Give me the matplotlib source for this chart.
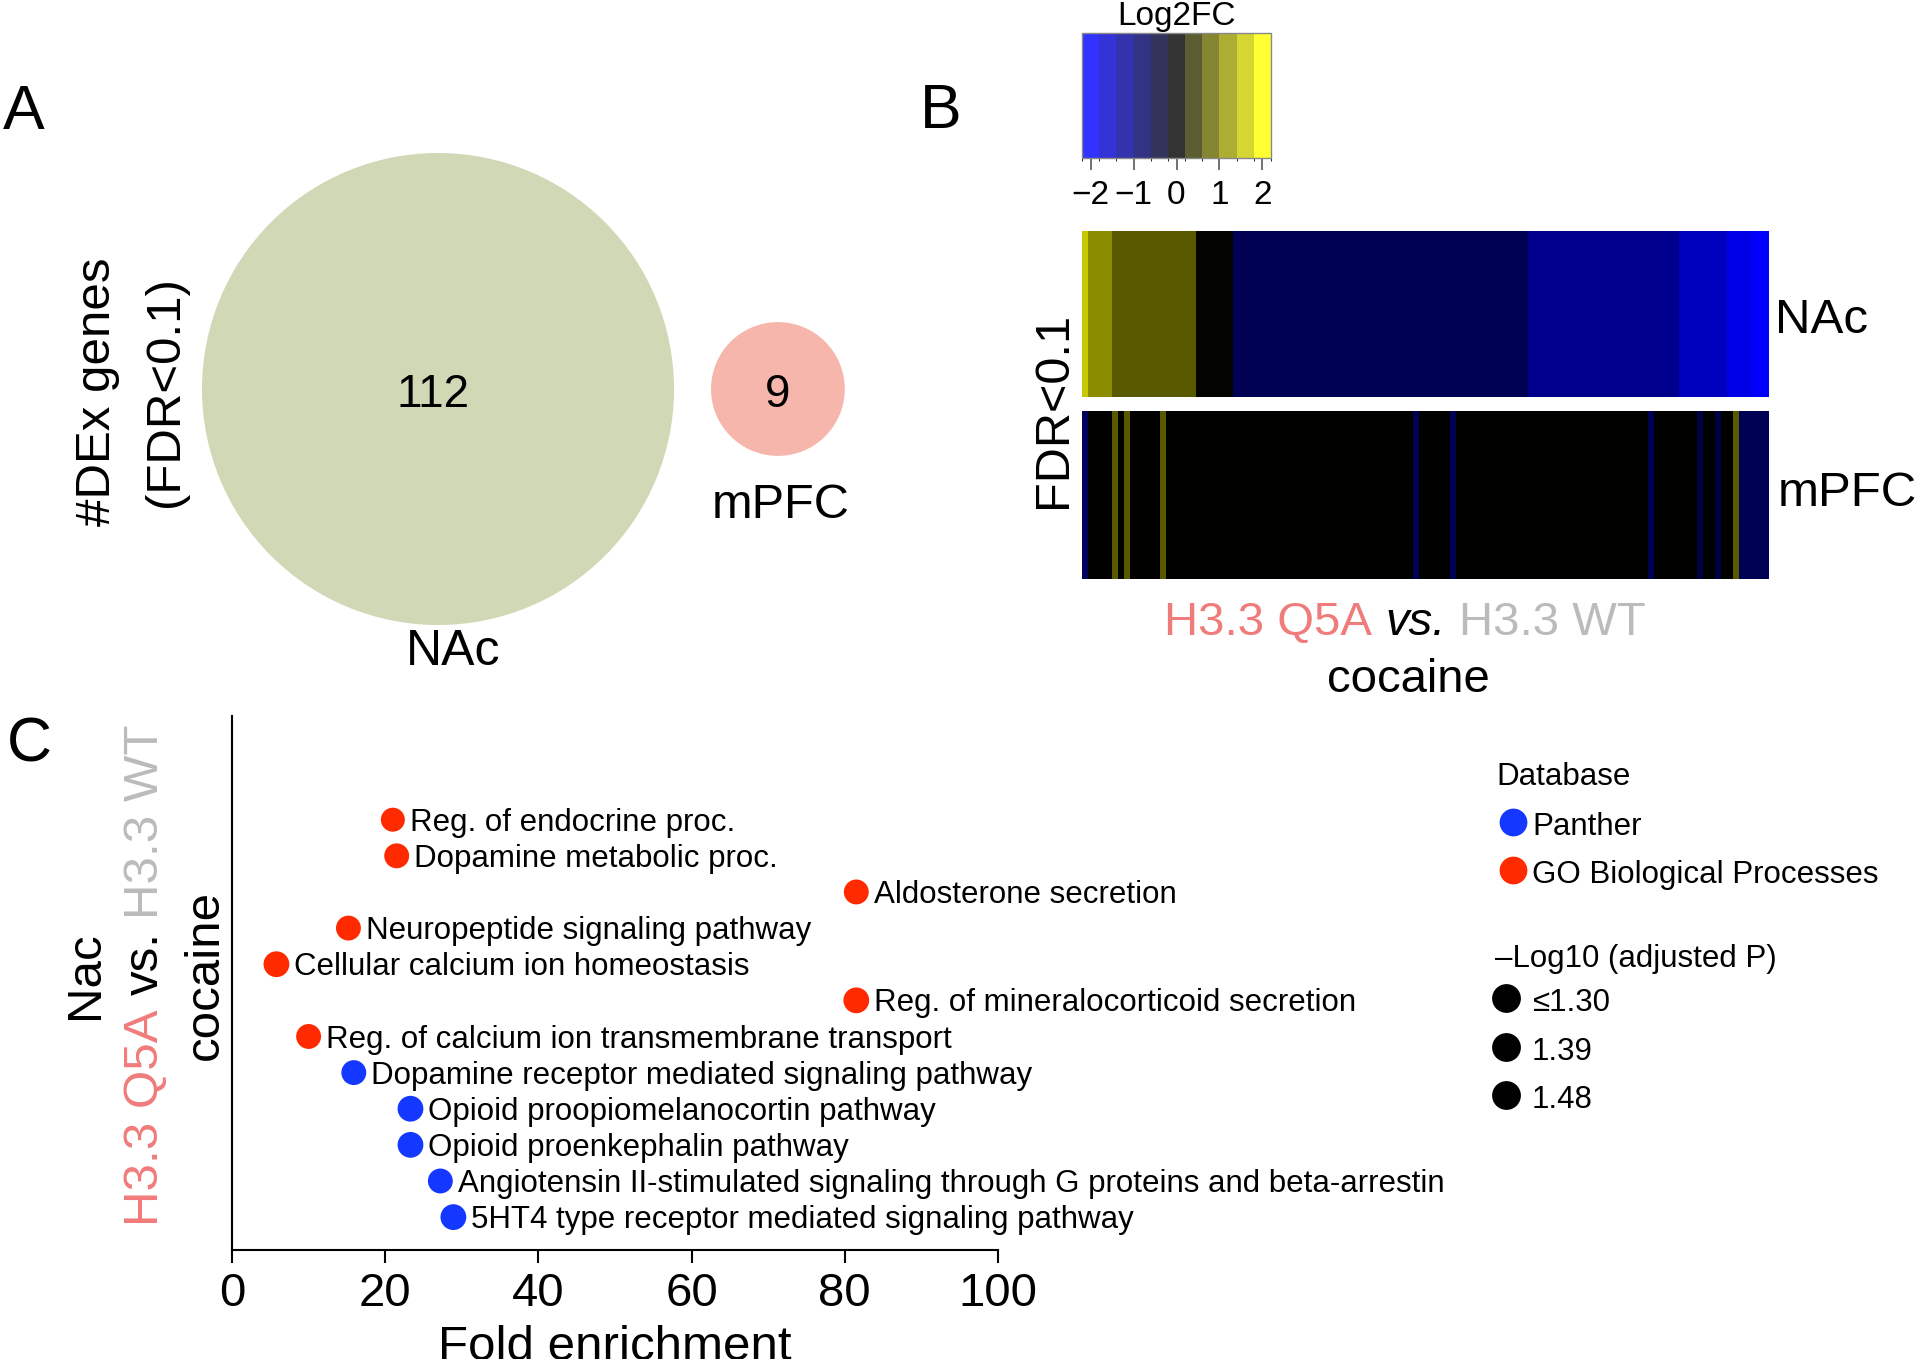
import numpy as np
import matplotlib
matplotlib.use('Agg')
import matplotlib.pyplot as plt
import matplotlib.cm as cm
from matplotlib.colors import LinearSegmentedColormap, ListedColormap, BoundaryNorm
from matplotlib.patches import Circle

plt.rcParams['font.family'] = ['Liberation Sans', 'DejaVu Sans']

W, H = 1918, 1359

# --- panel A: number of DEx genes per region
venn_regions = ['NAc', 'mPFC']
venn_counts = [112, 9]
venn_colors = ['#D0D8B5', '#F7B6AC']

# --- panel B: log2FC per gene (run lengths, left to right)
nac_vals = [1.72, 1.19, 0.77, 0.03, -0.73, -1.21, -1.65, -1.98, -2.15]
nac_runs = [1, 4, 14, 6, 49, 25, 8, 4, 3]
mpfc_vals = [-0.8, 0, 0.77, 0, 0.77, 0, 0.77, 0, -0.73, 0, -0.73, 0, -0.7, 0,
             -0.6, 0, -0.6, 0, 0.77, -0.73]
mpfc_runs = [1, 4, 1, 1, 1, 5, 1, 41, 1, 5, 1, 32, 1, 7, 1, 2, 1, 2, 1, 5]
cbar_ticks = [-2, -1, 0, 1, 2]
cbar_labels = ['\u22122', '\u22121', '0', '1', '2']
cbar_colors = ['#3333FF', '#3333D6', '#3333AD', '#333385', '#33335C', '#333333',
               '#5C5C33', '#858533', '#ADAD33', '#D6D633', '#FFFF33']

# --- panel C: enrichment terms
terms = ['Reg. of endocrine proc.',
         'Dopamine metabolic proc.',
         'Aldosterone secretion',
         'Neuropeptide signaling pathway',
         'Cellular calcium ion homeostasis',
         'Reg. of mineralocorticoid secretion',
         'Reg. of calcium ion transmembrane transport',
         'Dopamine receptor mediated signaling pathway',
         'Opioid proopiomelanocortin pathway',
         'Opioid proenkephalin pathway',
         'Angiotensin II-stimulated signaling through G proteins and beta-arrestin',
         '5HT4 type receptor mediated signaling pathway']
fold_enrichment = [21.0, 21.5, 81.5, 15.2, 5.8, 81.5, 10.0, 15.9, 23.3, 23.3, 27.2, 28.9]
database = ['GO', 'GO', 'GO', 'GO', 'GO', 'GO', 'GO',
            'Panther', 'Panther', 'Panther', 'Panther', 'Panther']
neglog_p = [1.30, 1.39, 1.39, 1.39, 1.48, 1.48, 1.39, 1.39, 1.48, 1.48, 1.39, 1.48]
db_colors = {'Panther': '#1438FF', 'GO': '#FF2A00'}
p_levels = ['\u22641.30', '1.39', '1.48']

Q5A_COL = '#F07B7B'
WT_COL = '#BBBBBB'

fig = plt.figure(figsize=(W / 100, H / 100), dpi=100)

# overlay in pixel units (y down) for free text
px = fig.add_axes([0, 0, 1, 1])
px.set_xlim(0, W)
px.set_ylim(H, 0)
px.axis('off')


def frac(x0, y0, x1, y1):
    return [x0 / W, 1 - y1 / H, (x1 - x0) / W, (y1 - y0) / H]


renderer = fig.canvas.get_renderer()


def text_width(s, **kw):
    t = px.text(0, 0, s, **kw)
    w = t.get_window_extent(renderer).width
    t.remove()
    return w


def multicolor(x, y, parts, fontsize, rotation=0):
    """parts = [(text, color, style)], centred on x (or y when rotated), y/x = baseline"""
    widths = [text_width(s, fontsize=fontsize, fontstyle=st) for s, c, st in parts]
    space = text_width('a a', fontsize=fontsize) - text_width('aa', fontsize=fontsize)
    total = sum(widths) + space * (len(parts) - 1)
    if rotation == 0:
        cur = x - total / 2
        for (s, c, st), w in zip(parts, widths):
            px.text(cur, y, s, color=c, fontstyle=st, fontsize=fontsize,
                    ha='left', va='baseline')
            cur += w + space
    else:
        cur = y + total / 2
        for (s, c, st), w in zip(parts, widths):
            px.text(x, cur, s, color=c, fontstyle=st, fontsize=fontsize,
                    rotation=90, rotation_mode='anchor', ha='left', va='baseline')
            cur -= w + space


# panel letters
px.text(3, 129, 'A', fontsize=45, va='baseline')
px.text(920, 128, 'B', fontsize=45, va='baseline')
px.text(7, 761, 'C', fontsize=45, va='baseline')

# ---------------- panel A
radii = [22.3 * np.sqrt(c) for c in venn_counts]
cy = 389
cx = [438, 438 + radii[0] + 37 + radii[1]]
for x, r, col, n in zip(cx, radii, venn_colors, venn_counts):
    px.add_patch(Circle((x, cy), r, color=col, lw=0))
    px.text(x - 5 if n > 99 else x, 407, str(n), ha='center', va='baseline', fontsize=33)
px.text(453, 665, venn_regions[0], ha='center', va='baseline', fontsize=36)
px.text(cx[1] + 3, 518, venn_regions[1], ha='center', va='baseline', fontsize=35)
px.text(110, 392, '#DEx genes', rotation=90, rotation_mode='anchor',
        ha='center', va='baseline', fontsize=35.5)
px.text(178, 392, '(FDR<0.1)', rotation=90, rotation_mode='anchor',
        ha='center', va='baseline', fontsize=35.5)

# ---------------- panel B
hm_cmap = LinearSegmentedColormap.from_list('byk', ['#0000FF', '#000000', '#FFFF00'])
rows = [(np.repeat(nac_vals, nac_runs), 231, 397, 'NAc', 1775, 333),
        (np.repeat(mpfc_vals, mpfc_runs), 411, 579, 'mPFC', 1778, 506)]
for vals, y0, y1, lab, lx, ly in rows:
    ax = fig.add_axes(frac(1082, y0, 1769, y1))
    ax.imshow(vals[None, :], cmap=hm_cmap, vmin=-2.2, vmax=2.2,
              aspect='auto', interpolation='nearest')
    ax.axis('off')
    px.text(lx, ly, lab, fontsize=35.5, ha='left', va='baseline')

cax = fig.add_axes(frac(1082, 33, 1271, 158))
sm = cm.ScalarMappable(norm=BoundaryNorm(np.linspace(-2.2, 2.2, 12), 11),
                       cmap=ListedColormap(cbar_colors))
cb = fig.colorbar(sm, cax=cax, orientation='horizontal', ticks=cbar_ticks)
cb.outline.set_edgecolor('#888888')
cb.outline.set_linewidth(1)
cax.set_xticklabels(cbar_labels)
cax.tick_params(length=8.5, width=1.3, color='#666666', labelsize=24, pad=7.5)
px.text(1177, 25, 'Log2FC', ha='center', va='baseline', fontsize=24)

px.text(1066, 410, 'FDR<0.1', rotation=90, rotation_mode='anchor',
        ha='center', va='baseline', fontsize=35)
multicolor(1405, 635, [('H3.3 Q5A', Q5A_COL, 'normal'), ('vs.', 'black', 'italic'),
                       ('H3.3 WT', WT_COL, 'normal')], 34)
px.text(1408, 692, 'cocaine', ha='center', va='baseline', fontsize=34)

# ---------------- panel C
axc = fig.add_axes(frac(232, 716, 998, 1250))
ypos = np.arange(len(terms), 0, -1)
sizes = [(0.72 * (24 + 10 * (p - 1.30))) ** 2 for p in neglog_p]
axc.scatter(fold_enrichment, ypos, s=sizes, c=[db_colors[d] for d in database],
            linewidths=0, zorder=3, clip_on=False)
for f, yy, t in zip(fold_enrichment, ypos, terms):
    axc.annotate(t, (f, yy), xytext=(12.5, -8), textcoords='offset points',
                 ha='left', va='baseline', fontsize=22.5)
axc.set_xlim(0, 100)
axc.set_ylim(0.09, 14.87)
axc.set_yticks([])
axc.set_xticks([0, 20, 40, 60, 80, 100])
for s in ['top', 'right']:
    axc.spines[s].set_visible(False)
for s in ['left', 'bottom']:
    axc.spines[s].set_linewidth(1.5)
axc.tick_params(axis='x', length=9, width=1.5, labelsize=34, pad=7)
axc.set_xlabel('Fold enrichment', fontsize=35.5, labelpad=6)

px.text(98, 975, 'Nac', rotation=90, rotation_mode='anchor',
        ha='center', va='baseline', fontsize=35.5)
multicolor(158, 975, [('H3.3 Q5A', Q5A_COL, 'normal'), ('vs.', 'black', 'normal'),
                      ('H3.3 WT', WT_COL, 'normal')], 35.5, rotation=90)
px.text(218, 975, 'cocaine', rotation=90, rotation_mode='anchor',
        ha='center', va='baseline', fontsize=35.5)

# legends
px.text(1496, 785, 'Database', fontsize=22.5, va='baseline')
for (name, col), yy in zip([('Panther', db_colors['Panther']),
                            ('GO Biological Processes', db_colors['GO'])], [822, 870]):
    px.scatter([1513], [yy], s=400, color=col, linewidths=0)
    px.text(1532, yy + 13, name, fontsize=22.5, va='baseline')
px.text(1495, 967, '\u2013Log10 (adjusted P)', fontsize=22.5, va='baseline')
for lab, yy in zip(p_levels, [998, 1047, 1095]):
    px.scatter([1506], [yy], s=430, color='black', linewidths=0)
    px.text(1532, yy + 13, lab, fontsize=22.5, va='baseline')

fig.savefig('out.png', dpi=100)
